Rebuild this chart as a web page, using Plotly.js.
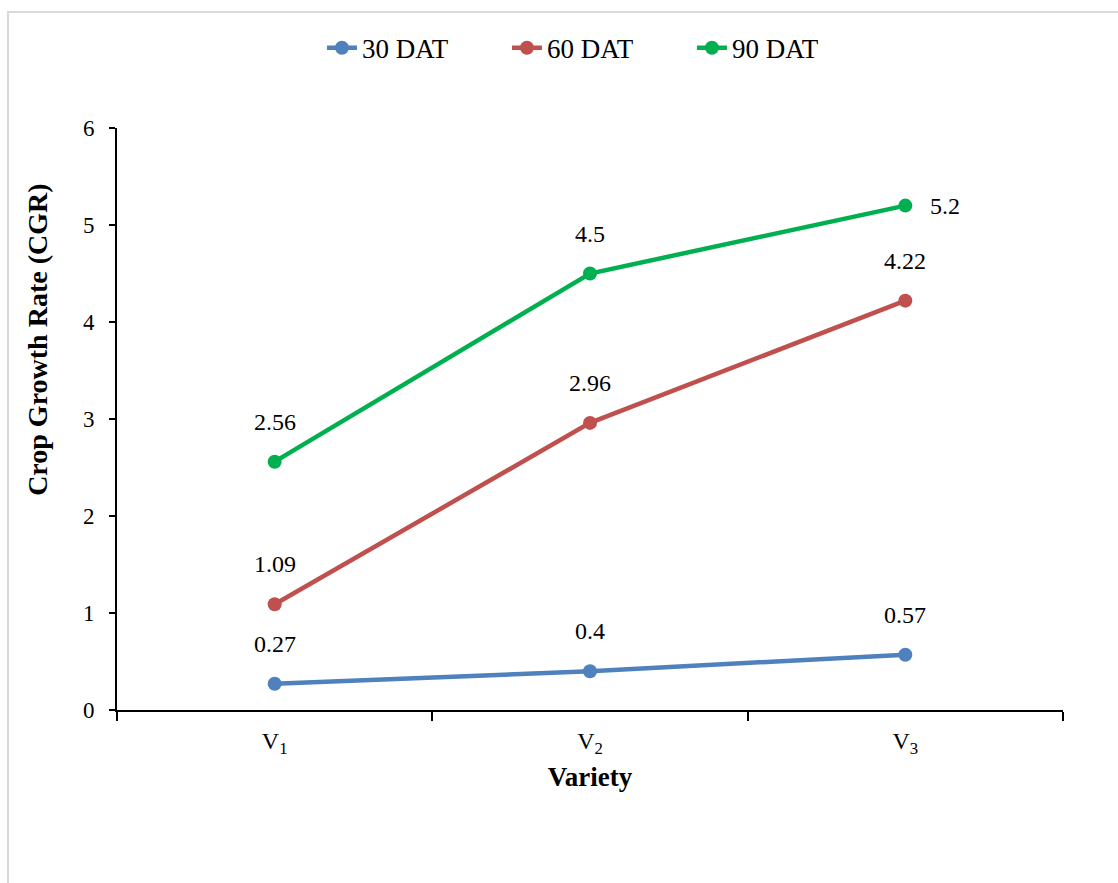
<!DOCTYPE html>
<html>
<head>
<meta charset="utf-8">
<script src="https://cdn.plot.ly/plotly-3.0.1.min.js"></script>
<style>
html,body{margin:0;padding:0;background:#fff;}
#frame{position:absolute;left:7px;top:11px;width:1111px;height:872px;border-left:2px solid #d9d9d9;border-top:2px solid #d9d9d9;box-sizing:border-box;pointer-events:none;z-index:10;}
#chart{width:1118px;height:883px;}
</style>
</head>
<body>
<div id="frame"></div>
<div id="chart"></div>
<script>
const categories = ['V<sub>1</sub>', 'V<sub>2</sub>', 'V<sub>3</sub>'];
const seriesNames = ['30 DAT', '60 DAT', '90 DAT'];
const dat30 = [0.27, 0.4, 0.57];
const dat60 = [1.09, 2.96, 4.22];
const dat90 = [2.56, 4.5, 5.2];
const colors = ['#4F81BD', '#C0504D', '#00B050'];
const yTitle = 'Crop Growth Rate (CGR)';
const xTitle = 'Variety';

const allSeries = [dat30, dat60, dat90];
const font = 'Liberation Serif';

const traces = allSeries.map((vals, i) => ({
  x: categories,
  y: vals,
  name: seriesNames[i],
  type: 'scatter',
  mode: 'lines+markers',
  line: {color: colors[i], width: 4.5},
  marker: {color: colors[i], size: 14},
  cliponaxis: false
}));

const annotations = [];
allSeries.forEach((vals, i) => {
  vals.forEach((v, j) => {
    const last = (i === 2 && j === 2);
    annotations.push({
      x: categories[j], y: v, xref: 'x', yref: 'y',
      text: String(v), showarrow: false,
      xshift: last ? 40 : 0,
      yshift: last ? 0 : 40,
      font: {family: font, size: 24, color: '#000'}
    });
  });
});
annotations.push({
  text: '<b>' + yTitle + '</b>', textangle: -90, showarrow: false,
  xref: 'paper', yref: 'paper', x: -0.0835, y: 0.636,
  xanchor: 'center', yanchor: 'middle',
  font: {family: font, size: 28, color: '#000'}
});

const layout = {
  width: 1118, height: 883,
  margin: {l: 117, r: 55, t: 128, b: 173},
  paper_bgcolor: '#fff', plot_bgcolor: '#fff',
  font: {family: font, color: '#000'},
  showlegend: true,
  legend: {
    orientation: 'h', x: 0.51, xanchor: 'center', xref: 'paper',
    y: 1.137, yanchor: 'middle', yref: 'paper',
    font: {family: font, size: 27, color: '#000'},
    entrywidth: 140, entrywidthmode: 'pixels',
    tracegroupgap: 0
  },
  xaxis: {
    type: 'category',
    range: [-0.5, 2.5],
    showline: true, linecolor: '#000', linewidth: 2,
    ticks: 'outside', tickson: 'boundaries', ticklen: 9, tickwidth: 2, tickcolor: '#000',
    showgrid: false, zeroline: false,
    tickfont: {family: font, size: 24, color: '#000'},
    ticklabelstandoff: 8,
    title: {text: '<b>' + xTitle + '</b>', font: {family: font, size: 27, color: '#000'}, standoff: 10}
  },
  yaxis: {
    range: [0, 6], dtick: 1, tick0: 0,
    showline: true, linecolor: '#000', linewidth: 2,
    ticks: 'outside', ticklen: 6, tickwidth: 2, tickcolor: '#000',
    showgrid: false, zeroline: false,
    tickfont: {family: font, size: 23, color: '#000'},
    ticklabelstandoff: 10
  },
  annotations: annotations
};

Plotly.newPlot('chart', traces, layout, {displayModeBar: false, staticPlot: true});
</script>
</body>
</html>
